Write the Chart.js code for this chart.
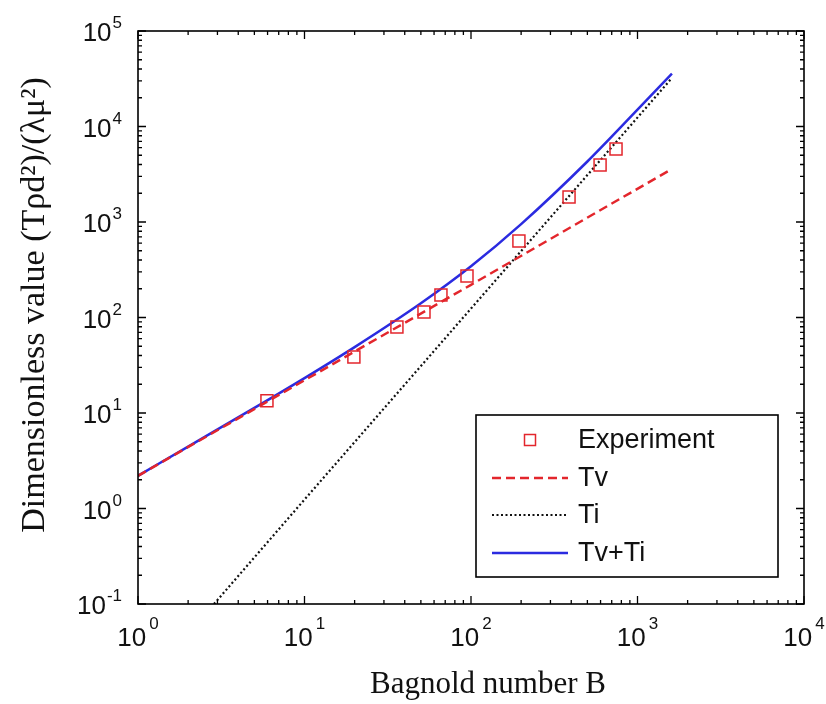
<!DOCTYPE html>
<html>
<head>
<meta charset="utf-8">
<script src="https://cdn.jsdelivr.net/npm/chart.js@4.4.1/dist/chart.umd.min.js"></script>
<style>
  html, body { margin: 0; padding: 0; background: #fff; }
  #wrap { width: 826px; height: 704px; }
</style>
</head>
<body>
<div id="wrap"><canvas id="chart" width="826" height="704"></canvas></div>
<script>
// Experiment: Bagnold number vs dimensionless value
const expB = [5.95, 19.8, 35.9, 52.2, 66, 94.6, 194, 388, 596, 743];
const expT = [13.4, 38.5, 79.5, 114, 172, 272, 632, 1829, 3954, 5808];

// Tv (viscous part)
const tvB = [1, 10, 100, 1610];
const tvT = [2.2, 22, 220, 3600];

// Ti (inertial part)
const tiB = [2.86, 10, 100, 1610];
const tiT = [0.1, 1.24, 124, 32200];

// Tv+Ti
const sumB = [1, 2, 5, 10, 20, 50, 100, 200, 500, 1000, 1610];
const sumT = [2.2, 4.45, 11.3, 23.2, 49, 141, 344, 950, 4300, 15000, 35800];

const xDecades = [0, 1, 2, 3, 4];
const yDecades = [-1, 0, 1, 2, 3, 4, 5];

const RED = '#e3262c';
const BLUE = '#2b2be0';

const pts = (xs, ys) => xs.map((x, i) => ({ x: x, y: ys[i] }));

// frame, inward ticks, 10^n labels, titles and legend
const decorations = {
    id: 'decorations',
    afterDraw(chart) {
        const ctx = chart.ctx;
        const a = chart.chartArea;
        const xs = chart.scales.x;
        const ys = chart.scales.y;
        ctx.save();

        ctx.strokeStyle = '#000';
        ctx.lineWidth = 1.6;
        ctx.strokeRect(a.left, a.top, a.right - a.left, a.bottom - a.top);

        ctx.lineWidth = 1.3;
        ctx.beginPath();
        xDecades.forEach(d => {
            for (let m = 1; m <= 9; m++) {
                if (d === 4 && m > 1) break;
                const px = xs.getPixelForValue(m * Math.pow(10, d));
                const len = m === 1 ? 8 : 4;
                ctx.moveTo(px, a.bottom); ctx.lineTo(px, a.bottom - len);
                ctx.moveTo(px, a.top); ctx.lineTo(px, a.top + len);
            }
        });
        yDecades.forEach(d => {
            for (let m = 1; m <= 9; m++) {
                if (d === 5 && m > 1) break;
                const py = ys.getPixelForValue(m * Math.pow(10, d));
                const len = m === 1 ? 8 : 4;
                ctx.moveTo(a.left, py); ctx.lineTo(a.left + len, py);
                ctx.moveTo(a.right, py); ctx.lineTo(a.right - len, py);
            }
        });
        ctx.stroke();

        const baseFont = '26px "Liberation Sans", Arial, sans-serif';
        const expFont = '17px "Liberation Sans", Arial, sans-serif';
        ctx.fillStyle = '#111';
        ctx.textBaseline = 'alphabetic';

        xDecades.forEach(d => {
            const px = xs.getPixelForValue(Math.pow(10, d));
            ctx.font = baseFont;
            const wb = ctx.measureText('10').width;
            ctx.font = expFont;
            const we = ctx.measureText(String(d)).width;
            const left = px - (wb + we + 3) / 2;
            ctx.font = baseFont;
            ctx.textAlign = 'left';
            ctx.fillText('10', left, a.bottom + 42);
            ctx.font = expFont;
            ctx.fillText(String(d), left + wb + 3, a.bottom + 25);
        });

        yDecades.forEach(d => {
            const py = ys.getPixelForValue(Math.pow(10, d));
            const right = a.left - 16;
            ctx.font = expFont;
            const we = ctx.measureText(String(d)).width;
            ctx.textAlign = 'right';
            ctx.fillText(String(d), right, py - 3);
            ctx.font = baseFont;
            ctx.fillText('10', right - we - 1, py + 10);
        });

        // axis titles
        ctx.textAlign = 'center';
        ctx.font = '31px "Liberation Serif", "Times New Roman", serif';
        ctx.fillText('Bagnold number B', 488, 693);
        ctx.save();
        ctx.translate(44, 305);
        ctx.rotate(-Math.PI / 2);
        ctx.font = '34px "Liberation Serif", "Times New Roman", serif';
        ctx.fillText('Dimensionless value (Tρd²)/(λμ²)', 0, 0);
        ctx.restore();

        // legend box
        const box = { l: 476, t: 415, r: 778, b: 577 };
        ctx.fillStyle = '#fff';
        ctx.fillRect(box.l, box.t, box.r - box.l, box.b - box.t);
        ctx.strokeStyle = '#000';
        ctx.lineWidth = 1.6;
        ctx.strokeRect(box.l, box.t, box.r - box.l, box.b - box.t);

        const rows = [440, 478, 515, 553];
        const labels = ['Experiment', 'Tv', 'Ti', 'Tv+Ti'];
        const sets = chart.data.datasets;
        ctx.font = '27px "Liberation Sans", Arial, sans-serif';
        ctx.textAlign = 'left';
        ctx.textBaseline = 'middle';
        rows.forEach((ry, i) => {
            const ds = sets[i];
            if (i === 0) {
                ctx.strokeStyle = ds.pointBorderColor;
                ctx.lineWidth = 1.5;
                ctx.strokeRect(530 - 5.5, ry - 5.5, 11, 11);
            } else {
                ctx.strokeStyle = ds.borderColor;
                ctx.lineWidth = ds.borderWidth;
                ctx.setLineDash(ds.borderDash || []);
                ctx.beginPath();
                ctx.moveTo(492, ry);
                ctx.lineTo(568, ry);
                ctx.stroke();
                ctx.setLineDash([]);
            }
            ctx.fillStyle = '#111';
            ctx.fillText(labels[i], 578, ry + 1);
        });

        ctx.restore();
    }
};

new Chart(document.getElementById('chart'), {
    type: 'scatter',
    data: {
        datasets: [
            {
                label: 'Experiment',
                data: pts(expB, expT),
                showLine: false,
                pointStyle: 'rect',
                pointRadius: 8.5,
                pointBorderWidth: 1.5,
                pointBorderColor: RED,
                pointBackgroundColor: 'rgba(0,0,0,0)'
            },
            {
                label: 'Tv',
                data: pts(tvB, tvT),
                showLine: true,
                borderColor: RED,
                borderWidth: 2.5,
                borderDash: [9, 5],
                pointRadius: 0
            },
            {
                label: 'Ti',
                data: pts(tiB, tiT),
                showLine: true,
                borderColor: '#111',
                borderWidth: 2.2,
                borderDash: [2, 2.5],
                pointRadius: 0
            },
            {
                label: 'Tv+Ti',
                data: pts(sumB, sumT),
                showLine: true,
                borderColor: BLUE,
                borderWidth: 2.5,
                cubicInterpolationMode: 'monotone',
                pointRadius: 0
            }
        ]
    },
    options: {
        responsive: false,
        animation: false,
        layout: { padding: { left: 138, right: 22, top: 31, bottom: 100 } },
        plugins: {
            legend: { display: false },
            tooltip: { enabled: false }
        },
        scales: {
            x: { type: 'logarithmic', min: 1, max: 10000, display: false },
            y: { type: 'logarithmic', min: 0.1, max: 100000, display: false }
        }
    },
    plugins: [decorations]
});
</script>
</body>
</html>
